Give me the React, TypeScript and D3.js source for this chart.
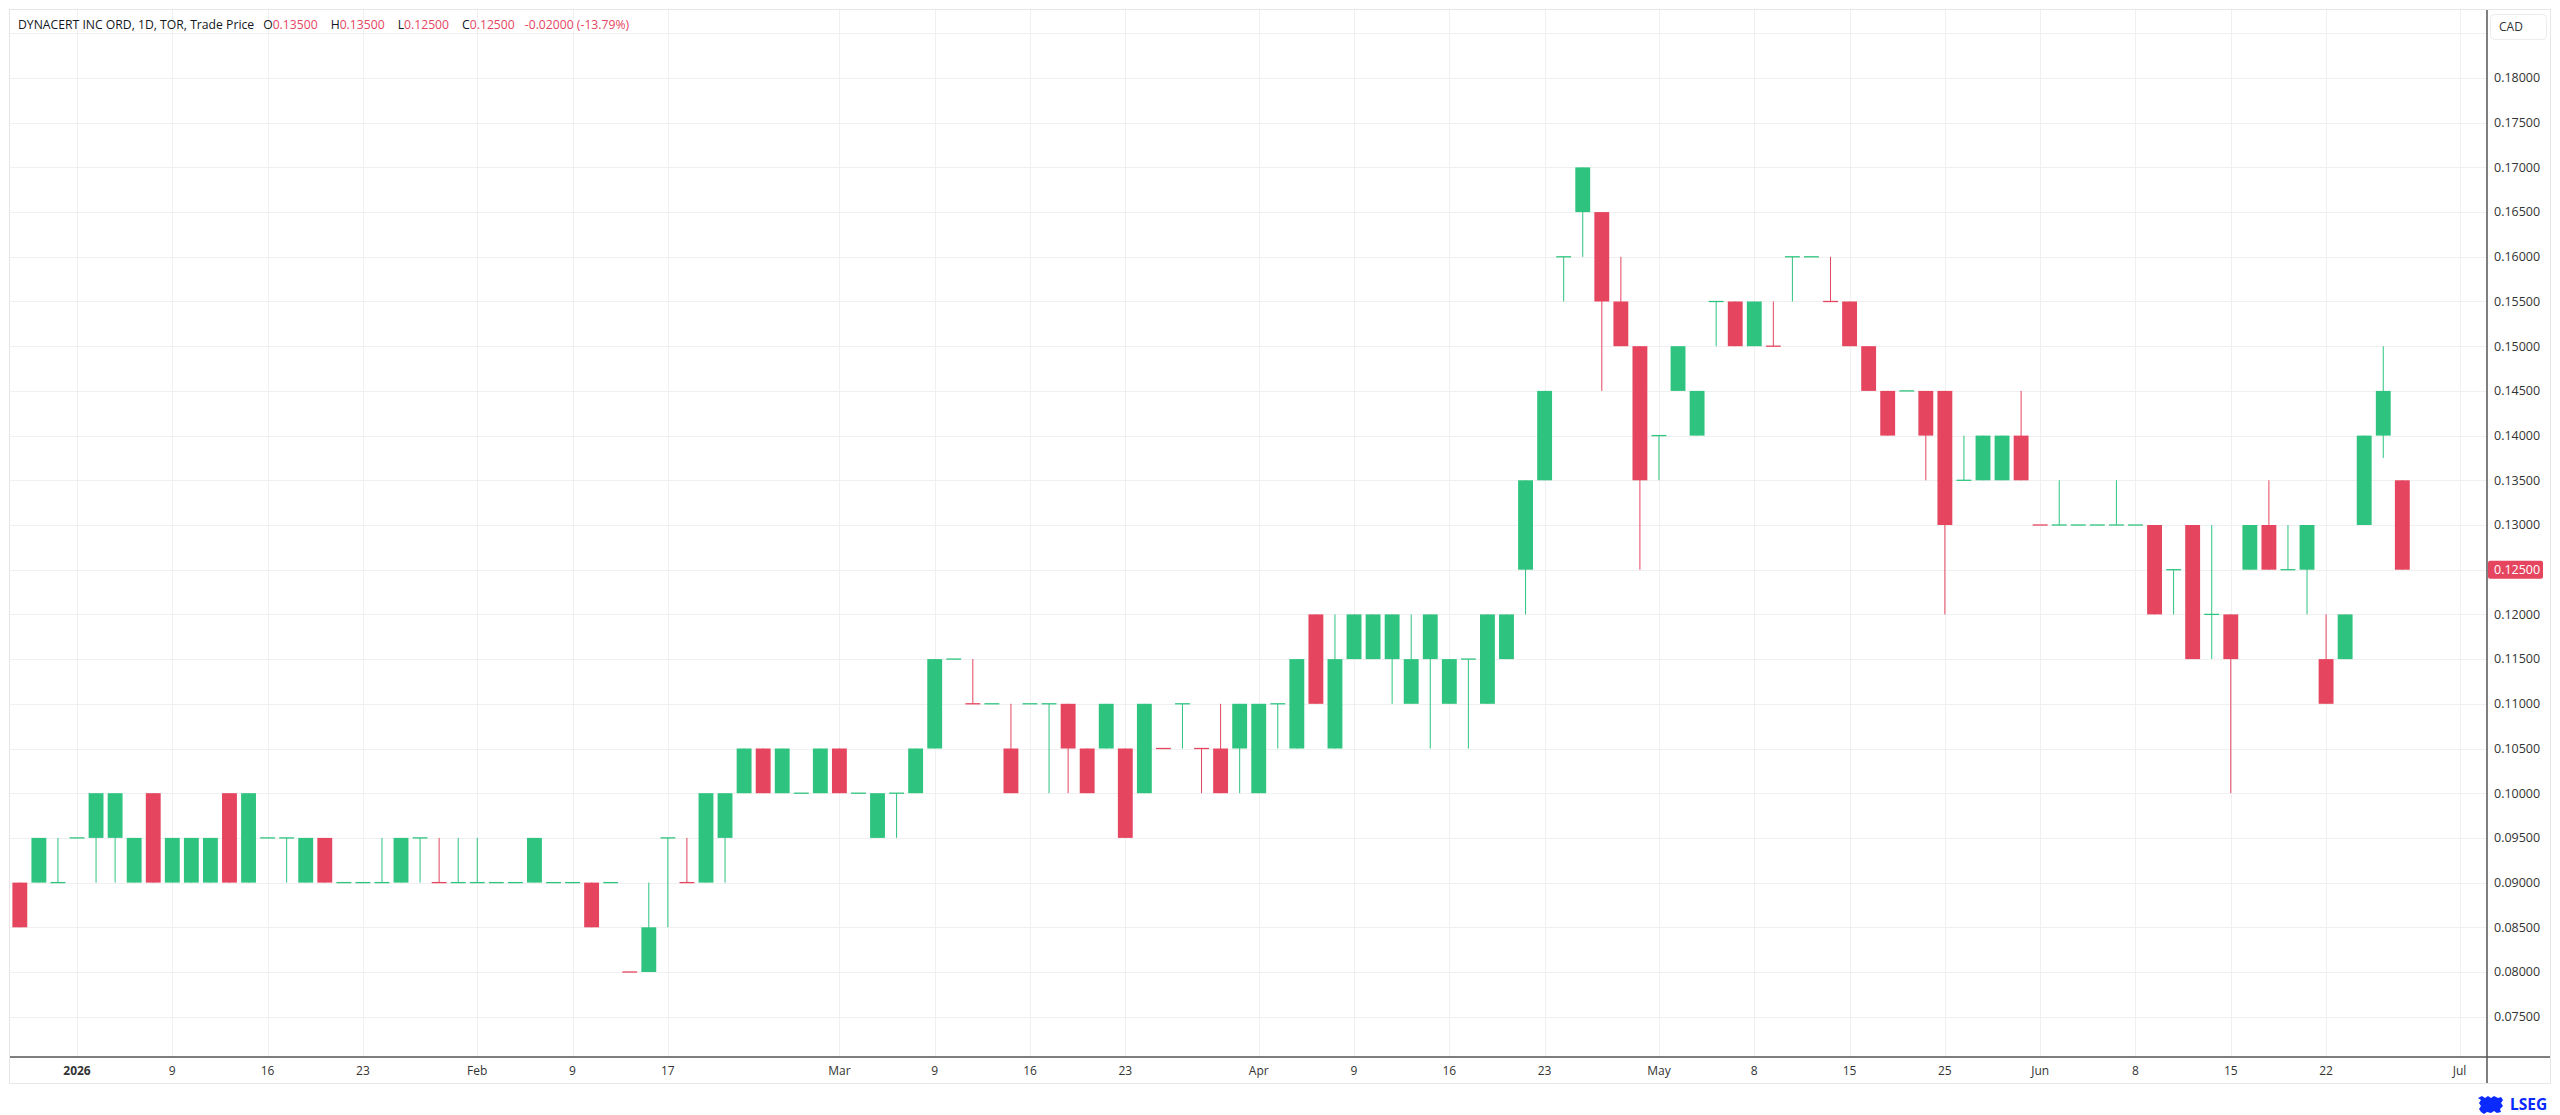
import React from "react";
import * as d3 from "d3";

// ---- DATA ----
// [date, open, high, low, close]
const candles: [string, number, number, number, number][] = [
  ["2025-12-29", 0.09, 0.09, 0.085, 0.085],
  ["2025-12-30", 0.09, 0.095, 0.09, 0.095],
  ["2025-12-31", 0.09, 0.095, 0.09, 0.09],
  ["2026-01-02", 0.095, 0.095, 0.095, 0.095],
  ["2026-01-05", 0.095, 0.1, 0.09, 0.1],
  ["2026-01-06", 0.095, 0.1, 0.09, 0.1],
  ["2026-01-07", 0.09, 0.095, 0.09, 0.095],
  ["2026-01-08", 0.1, 0.1, 0.09, 0.09],
  ["2026-01-09", 0.09, 0.095, 0.09, 0.095],
  ["2026-01-12", 0.09, 0.095, 0.09, 0.095],
  ["2026-01-13", 0.09, 0.095, 0.09, 0.095],
  ["2026-01-14", 0.1, 0.1, 0.09, 0.09],
  ["2026-01-15", 0.09, 0.1, 0.09, 0.1],
  ["2026-01-16", 0.095, 0.095, 0.095, 0.095],
  ["2026-01-19", 0.095, 0.095, 0.09, 0.095],
  ["2026-01-20", 0.09, 0.095, 0.09, 0.095],
  ["2026-01-21", 0.095, 0.095, 0.09, 0.09],
  ["2026-01-22", 0.09, 0.09, 0.09, 0.09],
  ["2026-01-23", 0.09, 0.09, 0.09, 0.09],
  ["2026-01-26", 0.09, 0.095, 0.09, 0.09],
  ["2026-01-27", 0.09, 0.095, 0.09, 0.095],
  ["2026-01-28", 0.095, 0.095, 0.09, 0.095],
  ["2026-01-29", 0.09, 0.095, 0.09, 0.09],
  ["2026-01-30", 0.09, 0.095, 0.09, 0.09],
  ["2026-02-02", 0.09, 0.095, 0.09, 0.09],
  ["2026-02-03", 0.09, 0.09, 0.09, 0.09],
  ["2026-02-04", 0.09, 0.09, 0.09, 0.09],
  ["2026-02-05", 0.09, 0.095, 0.09, 0.095],
  ["2026-02-06", 0.09, 0.09, 0.09, 0.09],
  ["2026-02-09", 0.09, 0.09, 0.09, 0.09],
  ["2026-02-10", 0.09, 0.09, 0.085, 0.085],
  ["2026-02-11", 0.09, 0.09, 0.09, 0.09],
  ["2026-02-12", 0.08, 0.08, 0.08, 0.08],
  ["2026-02-13", 0.08, 0.09, 0.08, 0.085],
  ["2026-02-17", 0.095, 0.095, 0.085, 0.095],
  ["2026-02-18", 0.09, 0.095, 0.09, 0.09],
  ["2026-02-19", 0.09, 0.1, 0.09, 0.1],
  ["2026-02-20", 0.095, 0.1, 0.09, 0.1],
  ["2026-02-23", 0.1, 0.105, 0.1, 0.105],
  ["2026-02-24", 0.105, 0.105, 0.1, 0.1],
  ["2026-02-25", 0.1, 0.105, 0.1, 0.105],
  ["2026-02-26", 0.1, 0.1, 0.1, 0.1],
  ["2026-02-27", 0.1, 0.105, 0.1, 0.105],
  ["2026-03-02", 0.105, 0.105, 0.1, 0.1],
  ["2026-03-03", 0.1, 0.1, 0.1, 0.1],
  ["2026-03-04", 0.095, 0.1, 0.095, 0.1],
  ["2026-03-05", 0.1, 0.1, 0.095, 0.1],
  ["2026-03-06", 0.1, 0.105, 0.1, 0.105],
  ["2026-03-09", 0.105, 0.115, 0.105, 0.115],
  ["2026-03-10", 0.115, 0.115, 0.115, 0.115],
  ["2026-03-11", 0.11, 0.115, 0.11, 0.11],
  ["2026-03-12", 0.11, 0.11, 0.11, 0.11],
  ["2026-03-13", 0.105, 0.11, 0.1, 0.1],
  ["2026-03-16", 0.11, 0.11, 0.11, 0.11],
  ["2026-03-17", 0.11, 0.11, 0.1, 0.11],
  ["2026-03-18", 0.11, 0.11, 0.1, 0.105],
  ["2026-03-19", 0.105, 0.105, 0.1, 0.1],
  ["2026-03-20", 0.105, 0.11, 0.105, 0.11],
  ["2026-03-23", 0.105, 0.105, 0.095, 0.095],
  ["2026-03-24", 0.1, 0.11, 0.1, 0.11],
  ["2026-03-25", 0.105, 0.105, 0.105, 0.105],
  ["2026-03-26", 0.11, 0.11, 0.105, 0.11],
  ["2026-03-27", 0.105, 0.105, 0.1, 0.105],
  ["2026-03-30", 0.105, 0.11, 0.1, 0.1],
  ["2026-03-31", 0.105, 0.11, 0.1, 0.11],
  ["2026-04-01", 0.1, 0.11, 0.1, 0.11],
  ["2026-04-02", 0.11, 0.11, 0.105, 0.11],
  ["2026-04-06", 0.105, 0.115, 0.105, 0.115],
  ["2026-04-07", 0.12, 0.12, 0.11, 0.11],
  ["2026-04-08", 0.105, 0.12, 0.105, 0.115],
  ["2026-04-09", 0.115, 0.12, 0.115, 0.12],
  ["2026-04-10", 0.115, 0.12, 0.115, 0.12],
  ["2026-04-13", 0.115, 0.12, 0.11, 0.12],
  ["2026-04-14", 0.11, 0.12, 0.11, 0.115],
  ["2026-04-15", 0.115, 0.12, 0.105, 0.12],
  ["2026-04-16", 0.11, 0.115, 0.11, 0.115],
  ["2026-04-17", 0.115, 0.115, 0.105, 0.115],
  ["2026-04-20", 0.11, 0.12, 0.11, 0.12],
  ["2026-04-21", 0.115, 0.12, 0.115, 0.12],
  ["2026-04-22", 0.125, 0.135, 0.12, 0.135],
  ["2026-04-23", 0.135, 0.145, 0.135, 0.145],
  ["2026-04-24", 0.16, 0.16, 0.155, 0.16],
  ["2026-04-27", 0.165, 0.17, 0.16, 0.17],
  ["2026-04-28", 0.165, 0.165, 0.145, 0.155],
  ["2026-04-29", 0.155, 0.16, 0.15, 0.15],
  ["2026-04-30", 0.15, 0.15, 0.125, 0.135],
  ["2026-05-01", 0.14, 0.14, 0.135, 0.14],
  ["2026-05-04", 0.145, 0.15, 0.145, 0.15],
  ["2026-05-05", 0.14, 0.145, 0.14, 0.145],
  ["2026-05-06", 0.155, 0.155, 0.15, 0.155],
  ["2026-05-07", 0.155, 0.155, 0.15, 0.15],
  ["2026-05-08", 0.15, 0.155, 0.15, 0.155],
  ["2026-05-11", 0.15, 0.155, 0.15, 0.15],
  ["2026-05-12", 0.16, 0.16, 0.155, 0.16],
  ["2026-05-13", 0.16, 0.16, 0.16, 0.16],
  ["2026-05-14", 0.155, 0.16, 0.155, 0.155],
  ["2026-05-15", 0.155, 0.155, 0.15, 0.15],
  ["2026-05-19", 0.15, 0.15, 0.145, 0.145],
  ["2026-05-20", 0.145, 0.145, 0.14, 0.14],
  ["2026-05-21", 0.145, 0.145, 0.145, 0.145],
  ["2026-05-22", 0.145, 0.145, 0.135, 0.14],
  ["2026-05-25", 0.145, 0.145, 0.12, 0.13],
  ["2026-05-26", 0.135, 0.14, 0.135, 0.135],
  ["2026-05-27", 0.135, 0.14, 0.135, 0.14],
  ["2026-05-28", 0.135, 0.14, 0.135, 0.14],
  ["2026-05-29", 0.14, 0.145, 0.135, 0.135],
  ["2026-06-01", 0.13, 0.13, 0.13, 0.13],
  ["2026-06-02", 0.13, 0.135, 0.13, 0.13],
  ["2026-06-03", 0.13, 0.13, 0.13, 0.13],
  ["2026-06-04", 0.13, 0.13, 0.13, 0.13],
  ["2026-06-05", 0.13, 0.135, 0.13, 0.13],
  ["2026-06-08", 0.13, 0.13, 0.13, 0.13],
  ["2026-06-09", 0.13, 0.13, 0.12, 0.12],
  ["2026-06-10", 0.125, 0.125, 0.12, 0.125],
  ["2026-06-11", 0.13, 0.13, 0.115, 0.115],
  ["2026-06-12", 0.12, 0.13, 0.115, 0.12],
  ["2026-06-15", 0.12, 0.12, 0.1, 0.115],
  ["2026-06-16", 0.125, 0.13, 0.125, 0.13],
  ["2026-06-17", 0.13, 0.135, 0.125, 0.125],
  ["2026-06-18", 0.125, 0.13, 0.125, 0.125],
  ["2026-06-19", 0.125, 0.13, 0.12, 0.13],
  ["2026-06-22", 0.115, 0.12, 0.11, 0.11],
  ["2026-06-23", 0.115, 0.12, 0.115, 0.12],
  ["2026-06-24", 0.13, 0.14, 0.13, 0.14],
  ["2026-06-25", 0.14, 0.15, 0.1375, 0.145],
  ["2026-06-26", 0.135, 0.135, 0.125, 0.125],
];

// doji bars (open == close) drawn in the down colour
const downDojis: string[] = [
  "2026-01-29", "2026-02-12", "2026-02-18", "2026-03-11", "2026-03-25",
  "2026-03-27", "2026-05-11", "2026-05-14", "2026-06-01",
];

// future trading days shown on the time axis
const futureDates: string[] = ["2026-06-29", "2026-06-30", "2026-07-02"];

const xTicks: [string, string][] = [
  ["2026", "2026-01-02"], ["9", "2026-01-09"], ["16", "2026-01-16"], ["23", "2026-01-23"],
  ["Feb", "2026-02-02"], ["9", "2026-02-09"], ["17", "2026-02-17"],
  ["Mar", "2026-03-02"], ["9", "2026-03-09"], ["16", "2026-03-16"], ["23", "2026-03-23"],
  ["Apr", "2026-04-01"], ["9", "2026-04-09"], ["16", "2026-04-16"], ["23", "2026-04-23"],
  ["May", "2026-05-01"], ["8", "2026-05-08"], ["15", "2026-05-15"], ["25", "2026-05-25"],
  ["Jun", "2026-06-01"], ["8", "2026-06-08"], ["15", "2026-06-15"], ["22", "2026-06-22"],
  ["Jul", "2026-07-02"],
];

const yTickValues: number[] = [
  0.075, 0.08, 0.085, 0.09, 0.095, 0.1, 0.105, 0.11, 0.115, 0.12, 0.125,
  0.13, 0.135, 0.14, 0.145, 0.15, 0.155, 0.16, 0.165, 0.17, 0.175, 0.18,
];
const yGridExtra: number[] = [0.185];

const title = "DYNACERT INC ORD, 1D, TOR, Trade Price";
const lastPrice = 0.125;
const change = "-0.02000 (-13.79%)";

// ---- STYLE / LAYOUT ----
const W = 2560;
const H = 1115;
const FRAME = { left: 10, top: 10, right: 2550, bottom: 1083 };
const AXIS_X = 2487; // price axis line
const AXIS_Y = 1057; // time axis line
const UP = "#2ec47f";
const DOWN = "#e5455f";
const GRID = "#f0f0f0";
const TEXT = "#333333";
const FONT = "'Open Sans', 'Noto Sans', sans-serif";

export default function App() {
  const allDates = [...candles.map((c) => c[0]), ...futureDates];
  const idx = (d: string) => allDates.indexOf(d);

  const x = d3
    .scaleLinear()
    .domain([idx("2026-01-02"), idx("2026-07-02")])
    .range([77, 2459.5]);
  const step = x(1) - x(0);
  const bodyW = step * 0.78;

  const y = d3.scaleLinear().domain([0.075, 0.18]).range([1016.7, 78]);

  const fmt = d3.format(".5f");
  const last = candles[candles.length - 1];

  return (
    <svg
      width={W}
      height={H}
      style={{ position: "absolute", left: 0, top: 0, background: "#fff" }}
      fontFamily={FONT}
    >
      <defs>
        <clipPath id="plot">
          <rect x={FRAME.left} y={FRAME.top} width={AXIS_X - FRAME.left} height={AXIS_Y - FRAME.top} />
        </clipPath>
      </defs>
      <rect x={0} y={0} width={W} height={H} fill="#fff" />
      {/* frame */}
      <rect
        x={FRAME.left - 0.5}
        y={FRAME.top - 0.5}
        width={FRAME.right - FRAME.left + 1}
        height={FRAME.bottom - FRAME.top + 1}
        fill="none"
        stroke="#e6e6e6"
      />

      {/* grid */}
      <g clipPath="url(#plot)">
        {[...yTickValues, ...yGridExtra].map((v) => (
          <line key={"gy" + v} x1={FRAME.left} x2={AXIS_X} y1={Math.round(y(v)) + 0.5} y2={Math.round(y(v)) + 0.5} stroke={GRID} />
        ))}
        {xTicks.map(([lab, d]) => (
          <line key={"gx" + d} x1={Math.round(x(idx(d))) + 0.5} x2={Math.round(x(idx(d))) + 0.5} y1={FRAME.top} y2={AXIS_Y} stroke={GRID} />
        ))}
      </g>

      {/* candles */}
      <g clipPath="url(#plot)">
        {candles.map(([d, o, h, l, c], i) => {
          const cx = x(i);
          const isDown = c < o || (c === o && downDojis.includes(d));
          const col = isDown ? DOWN : UP;
          const top = y(Math.max(o, c));
          const bh = Math.abs(y(o) - y(c));
          return (
            <g key={d}>
              <line x1={cx} x2={cx} y1={y(h)} y2={y(l)} stroke={col} strokeWidth={1} />
              {bh > 0 ? (
                <rect x={cx - bodyW / 2} y={top} width={bodyW} height={bh} fill={col} />
              ) : (
                <line x1={cx - bodyW / 2} x2={cx + bodyW / 2} y1={top} y2={top} stroke={col} strokeWidth={1.3} />
              )}
            </g>
          );
        })}
      </g>

      {/* axes lines */}
      <line x1={FRAME.left} x2={FRAME.right} y1={AXIS_Y} y2={AXIS_Y} stroke="#555" strokeWidth={1.5} />
      <line x1={AXIS_X} x2={AXIS_X} y1={FRAME.top} y2={FRAME.bottom} stroke="#555" strokeWidth={1.5} />

      {/* price labels */}
      {yTickValues.map((v) => (
        <text key={"yl" + v} x={AXIS_X + 7} y={y(v)} dy="0.35em" fontSize={12.5} fill={TEXT}>
          {fmt(v)}
        </text>
      ))}

      {/* last price marker */}
      <rect x={AXIS_X + 1} y={y(lastPrice) - 9} width={55} height={18} fill={DOWN} rx={2} />
      <text x={AXIS_X + 7} y={y(lastPrice)} dy="0.35em" fontSize={12.5} fill="#fff">
        {fmt(lastPrice)}
      </text>

      {/* currency box */}
      <rect x={2490.5} y={14.5} width={56} height={25} rx={4} fill="#fff" stroke="#ececec" />
      <text x={2499} y={27} dy="0.35em" fontSize={12} fill={TEXT}>
        CAD
      </text>

      {/* time labels */}
      {xTicks.map(([lab, d]) => (
        <text
          key={"xl" + d}
          x={x(idx(d))}
          y={1071}
          dy="0.35em"
          textAnchor="middle"
          fontSize={12}
          fontWeight={lab === "2026" ? 700 : 400}
          fill={TEXT}
        >
          {lab}
        </text>
      ))}

      {/* legend */}
      <text x={18} y={25} dy="0.35em" fontSize={12.2} fill="#131722">
        {title}
        <tspan dx={9}>O</tspan>
        <tspan fill={DOWN}>{fmt(last[1])}</tspan>
        <tspan dx={13}>H</tspan>
        <tspan fill={DOWN}>{fmt(last[2])}</tspan>
        <tspan dx={13}>L</tspan>
        <tspan fill={DOWN}>{fmt(last[3])}</tspan>
        <tspan dx={13}>C</tspan>
        <tspan fill={DOWN}>{fmt(last[4])}</tspan>
        <tspan dx={10} fill={DOWN}>{change}</tspan>
      </text>

      {/* LSEG logo */}
      <g fill="#0a2aff">
        <path d="M2478 1098 l4 -2 l3 2 l3 -2 l3 2 l3 -2 l4 2 l3 -1 l2 3 l-2 3 l2 3 l-3 3 l1 3 l-4 1 l-3 -2 l-3 2 l-4 -1 l-3 2 l-3 -2 l-2 -3 l2 -3 l-2 -3 l2 -3 z" />
        <text x={2510} y={1110} fontSize={15.5} fontWeight={700} fontFamily="'Noto Sans', 'Open Sans', sans-serif">
          LSEG
        </text>
      </g>
    </svg>
  );
}
